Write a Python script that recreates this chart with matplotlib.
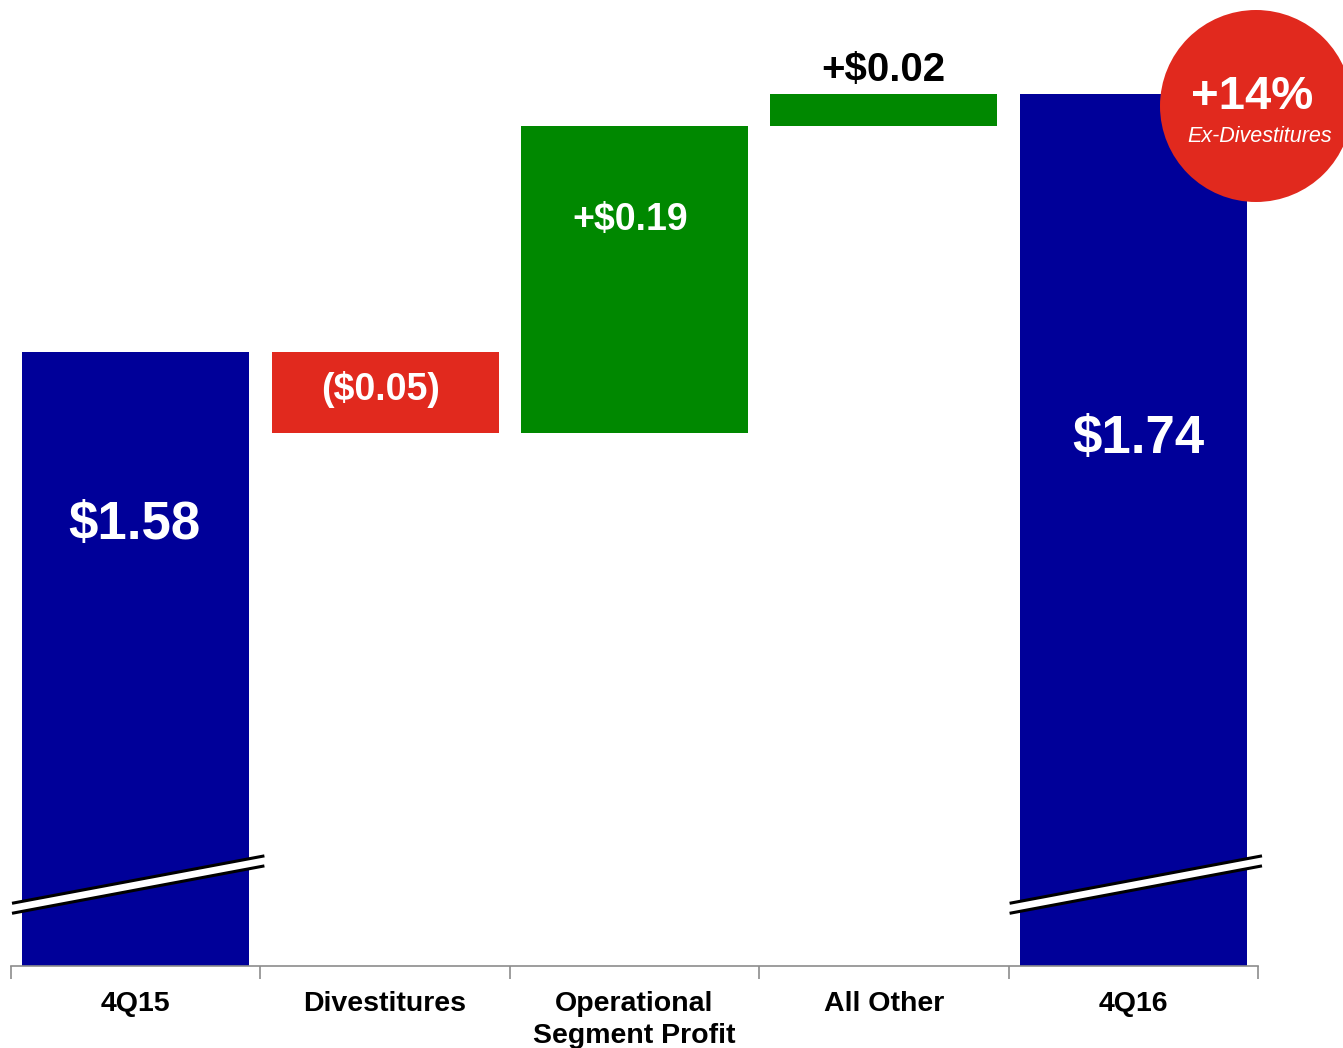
import numpy as np
import matplotlib.pyplot as plt
from matplotlib.patches import Polygon, Ellipse

plt.rcParams['font.family'] = ['Liberation Sans', 'DejaVu Sans']

# Data
categories = ['4Q15', 'Divestitures', 'Operational\nSegment Profit', 'All Other', '4Q16']
start_value = 1.58
deltas = [-0.05, 0.19, 0.02]
end_value = 1.74
value_labels = ['$1.58', '($0.05)', '+$0.19', '+$0.02', '$1.74']
badge_main = '+14%'
badge_sub = 'Ex-Divestitures'

BLUE = '#000099'
RED = '#E1291E'
GREEN = '#008800'

# waterfall bottoms / heights
y_min = 1.20
bottoms = [y_min]
heights = [start_value - y_min]
colors = [BLUE]
running = start_value
for d in deltas:
    if d < 0:
        bottoms.append(running + d)
        heights.append(-d)
        colors.append(RED)
    else:
        bottoms.append(running)
        heights.append(d)
        colors.append(GREEN)
    running += d
bottoms.append(y_min)
heights.append(end_value - y_min)
colors.append(BLUE)

x = np.arange(len(categories))

fig = plt.figure(figsize=(13.43, 10.48), dpi=100)
ax = fig.add_axes([11 / 1343, 1 - 966 / 1048, 1247 / 1343, 966 / 1048])

ax.bar(x, heights, bottom=bottoms, width=0.91, color=colors, zorder=2)

ax.set_xlim(-0.5, len(categories) - 0.5)
ax.set_ylim(y_min, 1.798)

# value labels (small manual nudges to match the slide)
label_dx = [-0.005, -0.02, -0.016, -0.004, 0.02]
label_y = [1.473, bottoms[1] + heights[1] / 2 + 0.002, 1.662, 1.7546, 1.526]
label_size = [38, 27, 27, 29, 38]
label_color = ['white', 'white', 'white', 'black', 'white']
for i in range(len(categories)):
    ax.text(x[i] + label_dx[i], label_y[i], value_labels[i], ha='center', va='center',
            fontsize=label_size[i], fontweight='bold', color=label_color[i], zorder=4)

# axis break marks on the two total bars
for i in [0, len(categories) - 1]:
    x0, x1 = x[i] - 0.49, x[i] + 0.51
    ya, yb = 1.239, 1.268
    gap = 0.0062
    poly = Polygon([[x0, ya], [x1, yb], [x1, yb - gap], [x0, ya - gap]],
                   closed=True, facecolor='white', edgecolor='none', zorder=3, clip_on=False)
    ax.add_patch(poly)
    ax.plot([x0, x1], [ya, yb], color='black', lw=2.2, zorder=3, clip_on=False)
    ax.plot([x0, x1], [ya - gap, yb - gap], color='black', lw=2.2, zorder=3, clip_on=False)

# axes styling
for s in ['top', 'right', 'left']:
    ax.spines[s].set_visible(False)
ax.spines['bottom'].set_color('#8c8c8c')
ax.spines['bottom'].set_linewidth(1.2)
ax.set_yticks([])
ax.set_xticks(x)
ax.set_xticklabels(categories, fontsize=20.5, fontweight='bold', linespacing=1.3)
ax.tick_params(axis='x', which='major', length=0, pad=18)
ax.set_xticks(np.arange(-0.5, len(categories)), minor=True)
ax.tick_params(axis='x', which='minor', length=9, width=1.2, color='#8c8c8c', direction='out')

# badge
circle = Ellipse((1256 / 1343, 1 - 106 / 1048), 192 / 1343, 192 / 1048,
                 transform=fig.transFigure, facecolor=RED, edgecolor='none', zorder=5)
fig.add_artist(circle)
fig.text(1252 / 1343, 1 - 97 / 1048, badge_main, ha='center', va='center',
         fontsize=34, fontweight='bold', color='white', zorder=6)
fig.text(1260 / 1343, 1 - 136 / 1048, badge_sub, ha='center', va='center',
         fontsize=15.5, fontstyle='italic', color='white', zorder=6)

fig.savefig('out.png', dpi=100)
